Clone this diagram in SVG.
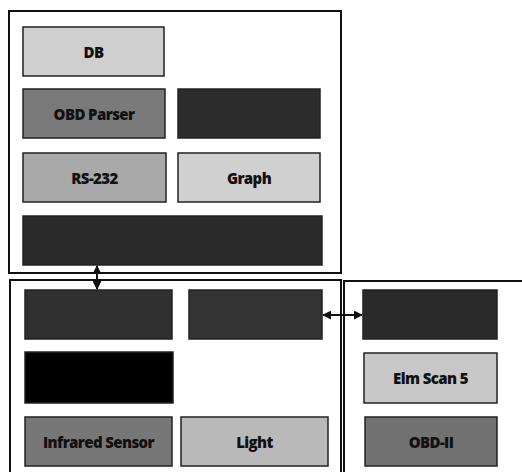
<svg xmlns="http://www.w3.org/2000/svg" width="522" height="472" viewBox="0 0 522 472">
<defs>
<style>
.frame{fill:none;stroke:#111;stroke-width:2}
.box{stroke:#222;stroke-width:1.5}
.lbl{font-family:"Open Sans","Noto Sans",sans-serif;font-weight:800;font-size:15px;fill:#111;text-anchor:middle;dominant-baseline:central;letter-spacing:-0.6px}
.conn{stroke:#111;stroke-width:2;fill:none}
</style>
<marker id="ah" viewBox="0 0 10 10" refX="9" refY="5" markerWidth="4.5" markerHeight="4.5" orient="auto-start-reverse">
<path d="M0,0 L10,5 L0,10 z" fill="#111"/>
</marker>
</defs>
<rect width="522" height="472" fill="#fff"/>
<g id="frames">
<rect class="frame" x="9" y="11" width="332" height="262"/>
<path class="frame" d="M10,473 V280 H341 V473"/>
<path class="frame" d="M344,473 V281 H523"/>
</g>
<g id="n-db"><rect class="box" x="23" y="27" width="141" height="49" fill="#cfcfcf"/><text class="lbl" x="93.5" y="52">DB</text></g>
<g id="n-obdparser"><rect class="box" x="23" y="89" width="142" height="49" fill="#7a7a7a"/><text class="lbl" x="94" y="114">OBD Parser</text></g>
<g id="n-dark1"><rect class="box" x="178" y="89" width="142" height="49" fill="#2c2c2c"/></g>
<g id="n-rs232"><rect class="box" x="23" y="153" width="143" height="49" fill="#a9a9a9"/><text class="lbl" x="94.5" y="178">RS-232</text></g>
<g id="n-graph"><rect class="box" x="178" y="153" width="142" height="49" fill="#d0d0d0"/><text class="lbl" x="249" y="178">Graph</text></g>
<g id="n-bar"><rect class="box" x="23" y="216" width="299" height="49" fill="#2a2a2a"/></g>
<g id="n-a"><rect class="box" x="25" y="290" width="147" height="49" fill="#303030"/></g>
<g id="n-b"><rect class="box" x="189" y="290" width="133" height="49" fill="#333333"/></g>
<g id="n-c"><rect class="box" x="363" y="290" width="134" height="49" fill="#2a2a2a"/></g>
<g id="n-black"><rect class="box" x="25" y="352" width="148" height="51" fill="#000"/></g>
<g id="n-elm"><rect class="box" x="364" y="353" width="133" height="50" fill="#c8c8c8"/><text class="lbl" x="430.5" y="378">Elm Scan 5</text></g>
<g id="n-ir"><rect class="box" x="25" y="417" width="147" height="49" fill="#777777"/><text class="lbl" x="98.5" y="442">Infrared Sensor</text></g>
<g id="n-light"><rect class="box" x="181" y="417" width="147" height="49" fill="#b9b9b9"/><text class="lbl" x="254.5" y="442">Light</text></g>
<g id="n-obd2"><rect class="box" x="365" y="417" width="132" height="49" fill="#727272"/><text class="lbl" x="431" y="442">OBD-II</text></g>
<g id="connectors">
<line class="conn" x1="97" y1="266" x2="97" y2="289" marker-start="url(#ah)" marker-end="url(#ah)"/>
<line class="conn" x1="323" y1="315" x2="362" y2="315" marker-start="url(#ah)" marker-end="url(#ah)"/>
</g>
</svg>
